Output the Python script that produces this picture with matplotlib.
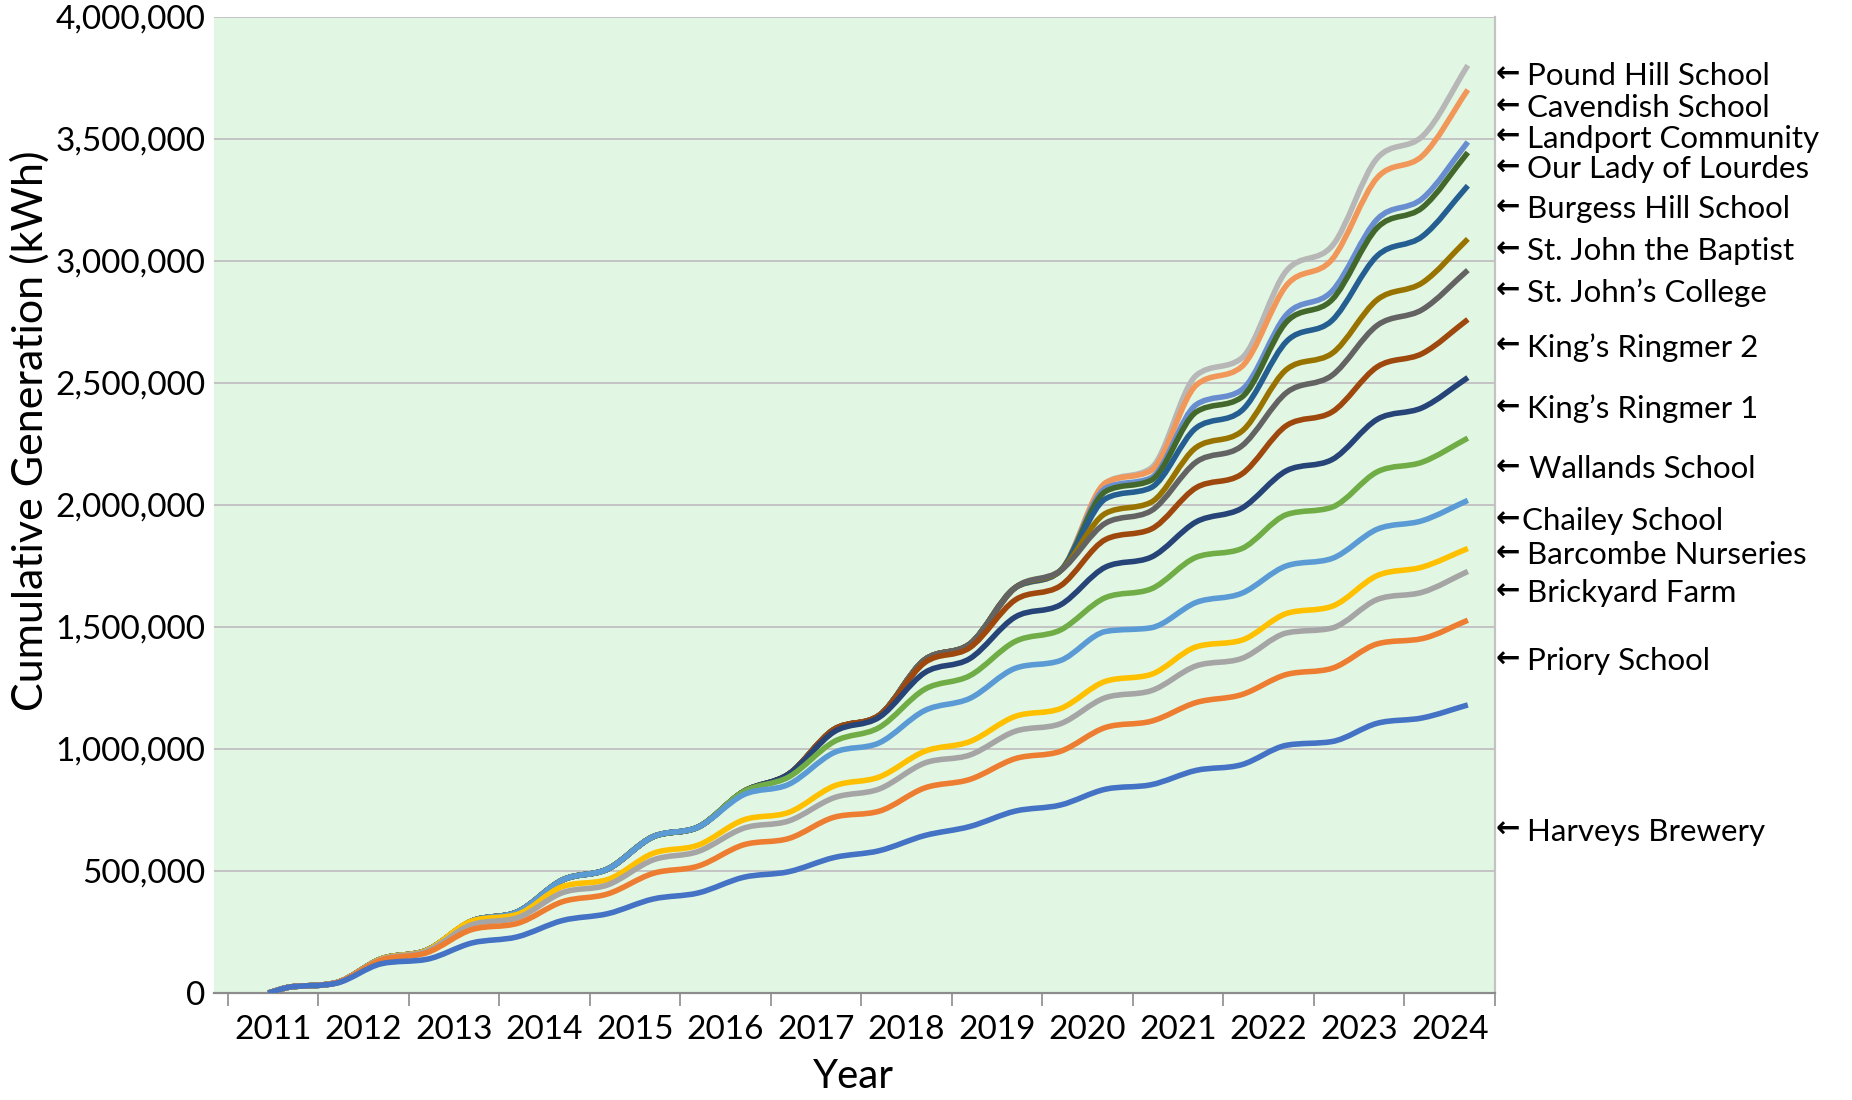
import numpy as np
import matplotlib
matplotlib.use("Agg")
import matplotlib.pyplot as plt
import matplotlib.ticker as mticker
from matplotlib.path import Path
from matplotlib.patches import PathPatch
from matplotlib.transforms import blended_transform_factory

plt.rcParams['font.family'] = ['Lato', 'DejaVu Sans']

# reading dates (decimal years): end of winter plateau / end of summer rise
years = [2011.45, 2011.7, 2012.2, 2012.7, 2013.2, 2013.7, 2014.2, 2014.7,
         2015.2, 2015.7, 2016.2, 2016.7, 2017.2, 2017.7, 2018.2, 2018.7,
         2019.2, 2019.7, 2020.2, 2020.7, 2021.2, 2021.7, 2022.2, 2022.7,
         2023.2, 2023.7, 2024.2, 2024.7]

# cumulative generation as plotted (each line stacked on the one below), thousand kWh
harveys = [0, 25, 40, 120, 138, 205, 230, 297, 325, 385, 410, 474, 497, 555,
           583, 645, 682, 745, 770, 835, 853, 912, 935, 1015, 1030, 1105, 1127, 1180]
priory = [0, 25, 42, 135, 165, 260, 285, 374, 406, 490, 520, 607, 633, 720,
          745, 840, 875, 960, 990, 1088, 1113, 1190, 1222, 1305, 1330, 1430, 1452, 1527]
brickyard = [0, 25, 42, 138, 172, 280, 308, 411, 443, 545, 580, 675, 705, 800,
             836, 942, 975, 1072, 1103, 1210, 1238, 1340, 1370, 1475, 1495, 1612, 1642, 1727]
barcombe = [0, 25, 42, 140, 175, 295, 322, 436, 465, 572, 606, 709, 740, 848,
            885, 990, 1030, 1133, 1165, 1277, 1305, 1418, 1445, 1555, 1584, 1710, 1745, 1821]
chailey = [0, 25, 42, 140, 175, 295, 332, 463, 508, 640, 680, 812, 855, 985,
           1025, 1157, 1207, 1330, 1362, 1481, 1496, 1600, 1637, 1750, 1780, 1900, 1935, 2018]
wallands = [0, 25, 42, 140, 175, 295, 332, 463, 508, 640, 680, 825, 885, 1030,
            1088, 1244, 1300, 1440, 1487, 1620, 1655, 1785, 1820, 1960, 1990, 2135, 2175, 2273]
ringmer1 = [0, 25, 42, 140, 175, 295, 332, 463, 508, 640, 680, 825, 897, 1070,
            1130, 1312, 1370, 1540, 1590, 1745, 1785, 1930, 1985, 2140, 2185, 2350, 2398, 2521]
ringmer2 = [0, 25, 42, 140, 175, 295, 332, 463, 508, 640, 680, 825, 897, 1080,
            1138, 1353, 1415, 1610, 1668, 1858, 1900, 2070, 2125, 2325, 2380, 2565, 2620, 2759]
college = [0, 25, 42, 140, 175, 295, 332, 463, 508, 640, 680, 825, 897, 1080,
           1138, 1365, 1430, 1660, 1730, 1925, 1975, 2175, 2240, 2460, 2530, 2735, 2800, 2961]
baptist = [0, 25, 42, 140, 175, 295, 332, 463, 508, 640, 680, 825, 897, 1080,
           1138, 1365, 1430, 1660, 1730, 1965, 2010, 2235, 2300, 2555, 2620, 2840, 2910, 3089]
burgess = [0, 25, 42, 140, 175, 295, 332, 463, 508, 640, 680, 825, 897, 1080,
           1138, 1365, 1430, 1660, 1730, 2025, 2070, 2315, 2385, 2670, 2755, 3020, 3100, 3307]
lourdes = [0, 25, 42, 140, 175, 295, 332, 463, 508, 640, 680, 825, 897, 1080,
           1138, 1365, 1430, 1660, 1730, 2055, 2100, 2380, 2440, 2750, 2840, 3135, 3218, 3443]
landport = [0, 25, 42, 140, 175, 295, 332, 463, 508, 640, 680, 825, 897, 1080,
            1138, 1365, 1430, 1660, 1730, 2068, 2110, 2410, 2470, 2780, 2875, 3170, 3255, 3486]
cavendish = [0, 25, 42, 140, 175, 295, 332, 463, 508, 640, 680, 825, 897, 1080,
             1138, 1365, 1430, 1660, 1730, 2090, 2140, 2490, 2565, 2900, 3005, 3340, 3430, 3700]
pound_hill = [0, 25, 42, 140, 175, 295, 332, 463, 508, 640, 680, 825, 897, 1080,
              1138, 1365, 1430, 1660, 1730, 2090, 2150, 2530, 2600, 2960, 3060, 3420, 3510, 3800]

sites = ["Harveys Brewery", "Priory School", "Brickyard Farm", "Barcombe Nurseries",
         "Chailey School", "Wallands School", "King\u2019s Ringmer 1", "King\u2019s Ringmer 2",
         "St. John\u2019s College", "St. John the Baptist", "Burgess Hill School",
         "Our Lady of Lourdes", "Landport Community", "Cavendish School", "Pound Hill School"]
series = [harveys, priory, brickyard, barcombe, chailey, wallands, ringmer1, ringmer2,
          college, baptist, burgess, lourdes, landport, cavendish, pound_hill]
colors = ["#4472C4", "#ED7D31", "#A5A5A5", "#FFC000", "#5B9BD5", "#70AD47", "#264478",
          "#9E480E", "#636363", "#997300", "#255E91", "#43682B", "#698ED0", "#F1975A", "#B7B7B7"]

# where the name tags sit on the right (layout, thousand kWh) and gap arrow->name (px)
tag_y = [661, 1358, 1638, 1793, 1933, 2146, 2393, 2644, 2870, 3040, 3210, 3374, 3500, 3625, 3756]
tag_gap = [32, 32, 32, 32, 27, 34, 32, 32, 32, 32, 32, 32, 32, 32, 32]


def smooth_path(x, y):
    # smoothed line like Excel's: cubic bezier through the points (no overshoot)
    x = np.asarray(x, float)
    y = np.asarray(y, float)
    d = np.diff(y) / np.diff(x)
    m = np.empty(len(x))
    m[1:-1] = (y[2:] - y[:-2]) / (x[2:] - x[:-2])
    m[0] = d[0]
    m[-1] = d[-1]
    for k in range(len(d)):
        if d[k] == 0:
            m[k] = m[k + 1] = 0
            continue
        a, b = m[k] / d[k], m[k + 1] / d[k]
        r = a * a + b * b
        if r > 9:
            tau = 3 / np.sqrt(r)
            m[k] = tau * a * d[k]
            m[k + 1] = tau * b * d[k]
    verts = [(x[0], y[0])]
    codes = [Path.MOVETO]
    for i in range(len(x) - 1):
        h = (x[i + 1] - x[i]) / 3
        verts += [(x[i] + h, y[i] + m[i] * h),
                  (x[i + 1] - h, y[i + 1] - m[i + 1] * h),
                  (x[i + 1], y[i + 1])]
        codes += [Path.CURVE4] * 3
    return Path(verts, codes)


fig = plt.figure(figsize=(18.52, 11.0), dpi=100)
ax = fig.add_axes([214 / 1852, 1 - 993 / 1100, 1281 / 1852, 976.5 / 1100])
ax.set_facecolor("#E2F7E3")

# later sites drawn first so earlier ones sit on top where they overlap
for vals, c in reversed(list(zip(series, colors))):
    p = smooth_path(years, np.array(vals) * 1000)
    ax.add_patch(PathPatch(p, facecolor="none", edgecolor=c, lw=4.0,
                           capstyle="butt", joinstyle="round", zorder=3))

ax.set_xlim(2010.85, 2025)
ax.set_ylim(0, 4000000)

ax.yaxis.set_major_locator(mticker.MultipleLocator(500000))
ax.yaxis.set_major_formatter(mticker.FuncFormatter(lambda v, p: f"{int(v):,}"))
ax.grid(axis="y", color="#C3C3C3", lw=1.4, zorder=1)
ax.tick_params(axis="y", length=0, pad=6, labelsize=24, labelcolor="#000000")

ax.xaxis.set_major_locator(mticker.FixedLocator(range(2011, 2026)))
ax.xaxis.set_major_formatter(mticker.NullFormatter())
ax.xaxis.set_minor_locator(mticker.FixedLocator([y + 0.5 for y in range(2011, 2025)]))
ax.xaxis.set_minor_formatter(mticker.FixedFormatter([str(y) for y in range(2011, 2025)]))
ax.tick_params(axis="x", which="major", length=9.5, width=1.2, color="#8C8C8C", direction="out")
ax.tick_params(axis="x", which="minor", length=0, pad=16, labelsize=24)

for s in ["left", "top"]:
    ax.spines[s].set_visible(False)
ax.spines["bottom"].set_color("#8C8C8C")
ax.spines["bottom"].set_linewidth(1.6)
ax.spines["right"].set_color("#C3C3C3")
ax.spines["right"].set_linewidth(1.6)

fig.text(30 / 1852, 1 - 431 / 1100, "Cumulative Generation (kWh)", rotation=90,
         ha="center", va="center", fontsize=31)
fig.text(853 / 1852, 1 - 1077 / 1100, "Year", ha="center", va="center", fontsize=29)

tr = blended_transform_factory(ax.transAxes, ax.transData)
for name, ty, gap in zip(sites, tag_y, tag_gap):
    ax.text(1 + 1 / 1281, ty * 1000 + 6000, "\u2190", transform=tr, ha="left", va="center",
            fontsize=21, fontweight="bold", family="DejaVu Sans", clip_on=False)
    ax.text(1 + gap / 1281, ty * 1000, name, transform=tr, ha="left", va="center",
            fontsize=22.5, clip_on=False)

fig.savefig("out.png", dpi=100)
